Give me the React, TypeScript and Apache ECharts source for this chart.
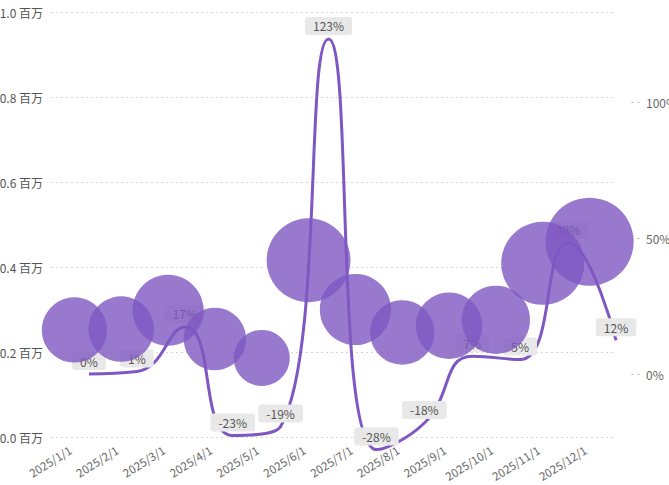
import React, { useEffect, useRef } from "react";
import * as echarts from "echarts";

const months = ["2025/1/1", "2025/2/1", "2025/3/1", "2025/4/1", "2025/5/1", "2025/6/1", "2025/7/1", "2025/8/1", "2025/9/1", "2025/10/1", "2025/11/1", "2025/12/1"];
const amounts = [251800, 254000, 298000, 230600, 186000, 415800, 300000, 245900, 261900, 275700, 408700, 459500];
const changes = [0, 0.9, 17.3, -22.6, -19.3, 123.2, -27.8, -18, 6.5, 5.3, 48.2, 12.4];

const purple = "#7e57c2";
const font = "'Noto Sans CJK SC', 'Noto Sans', sans-serif";

export default function App() {
  const ref = useRef<HTMLDivElement>(null);
  useEffect(() => {
    if (!ref.current) return;
    const chart = echarts.init(ref.current, null, { renderer: "svg" });
    chart.setOption({
      animation: false,
      textStyle: { fontFamily: font },
      grid: [
        { left: 51, right: 56, top: 12, bottom: 48, outerBoundsMode: "none", containLabel: false },
        { left: 65, right: 29, top: -34, bottom: -25, outerBoundsMode: "none", containLabel: false },
      ],
      xAxis: [
        {
          type: "category",
          gridIndex: 0,
          data: months,
          boundaryGap: true,
          axisLine: { show: false },
          axisTick: { show: false },
          axisLabel: { rotate: 32, color: "#666", fontSize: 11.5, margin: 9, padding: [0, 5, 0, 0], interval: 0 },
        },
        {
          type: "category",
          gridIndex: 1,
          data: months,
          boundaryGap: true,
          show: false,
        },
      ],
      yAxis: [
        {
          type: "value",
          gridIndex: 0,
          min: 0,
          max: 1000000,
          interval: 200000,
          axisLine: { show: false },
          axisTick: { show: false },
          axisLabel: {
            color: "#555",
            fontSize: 12,
            margin: 8,
            formatter: (v: number) => (v / 1000000).toFixed(1) + " 百万",
          },
          splitLine: { lineStyle: { type: [2, 3], color: "#d6d6d6" } },
        },
        {
          type: "value",
          gridIndex: 1,
          position: "right",
          min: -50,
          max: 150,
          interval: 50,
          axisLine: { show: false },
          axisTick: { show: true, inside: true, length: 10, lineStyle: { type: [3, 3], color: "#ccc" } },
          axisLabel: { color: "#666", fontSize: 12, margin: 6, formatter: (v: number) => v + "%" },
          splitLine: { show: false },
        },
      ],
      series: [
        {
          type: "line",
          xAxisIndex: 1,
          yAxisIndex: 1,
          data: changes,
          smooth: true,
          symbol: "circle",
          symbolSize: 2,
          showSymbol: true,
          z: 2,
          lineStyle: { color: purple, width: 3 },
          itemStyle: { color: "rgba(126,87,194,0)" },
          label: {
            show: true,
            position: "top",
            distance: 3,
            color: "#555",
            fontSize: 12,
            backgroundColor: "#e8e8e8",
            borderRadius: 3,
            padding: [3, 8],
            formatter: (p: any) => Math.round(p.value) + "%",
          },
        },
        {
          type: "scatter",
          xAxisIndex: 0,
          yAxisIndex: 0,
          data: amounts,
          z: 3,
          symbolSize: (v: number) => Math.sqrt(v / 1000000) * 130,
          itemStyle: { color: purple, opacity: 0.8 },
        },
      ],
    });
    return () => chart.dispose();
  }, []);
  return <div ref={ref} style={{ position: "absolute", left: 0, top: 0, width: 669, height: 485 }} />;
}
